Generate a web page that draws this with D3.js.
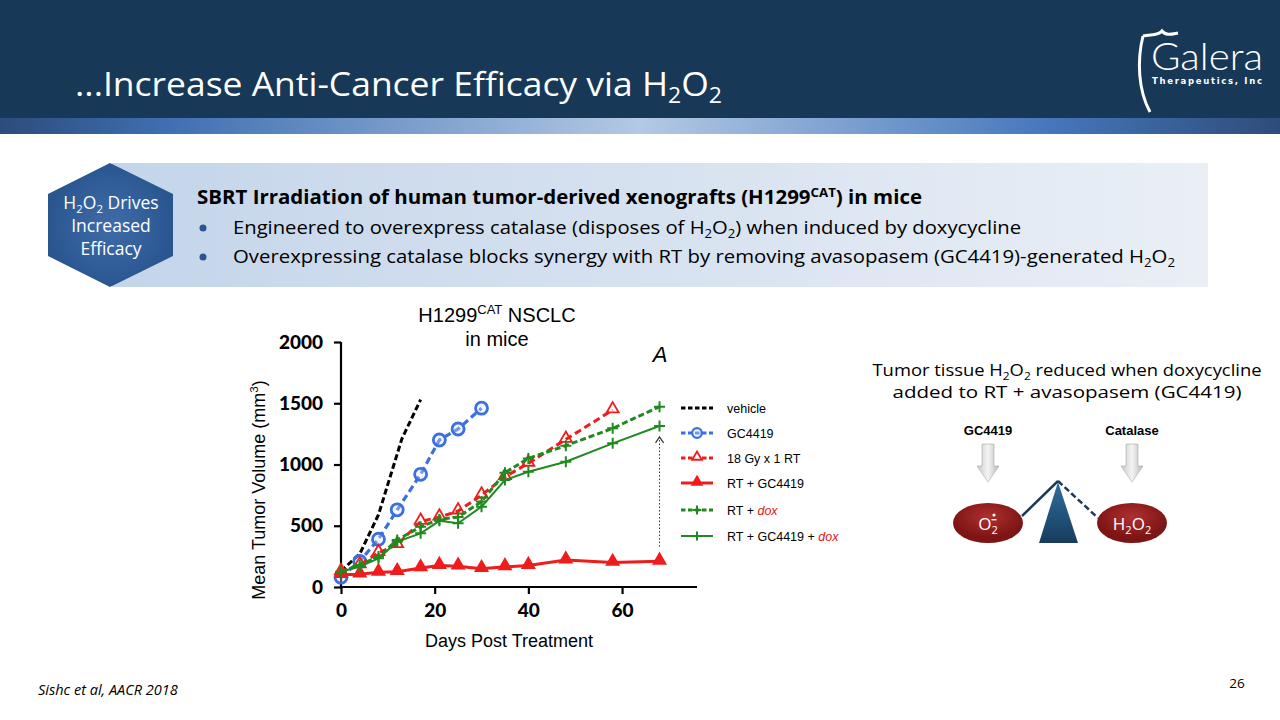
<!DOCTYPE html>
<html>
<head>
<meta charset="utf-8">
<script src="https://cdn.jsdelivr.net/npm/d3@7"></script>
<style>
  body { margin: 0; background: #fff; }
  svg { display: block; }
</style>
</head>
<body>
<svg id="slide" width="1280" height="720"></svg>
<script>
// tumour volume data (days post treatment / mm3)
var days = [0, 4, 8, 12, 17, 21, 25, 30, 35, 40, 48, 58, 68];
var vehicleDays = [0, 4, 8, 13, 17];
var vehicle = [130, 270, 590, 1210, 1530];
var gc4419 = [80, 210, 390, 630, 920, 1200, 1290, 1460];
var rtOnly = [125, 180, 280, 345, 535, 570, 620, 750, 900, 1010, 1205, 1445];
var rtGc = [100, 105, 120, 125, 155, 175, 170, 150, 165, 175, 220, 200, 210];
var rtDox = [125, 180, 248, 384, 492, 552, 571, 697, 933, 1050, 1154, 1295, 1472];
var rtGcDox = [125, 166, 234, 370, 438, 540, 520, 656, 873, 941, 1023, 1173, 1314];
var xTicks = [0, 20, 40, 60];
var yTicks = [0, 500, 1000, 1500, 2000];
var arrowSpan = [68, 330, 1225]; // day, from, to

var svg = d3.select("#slide");
var defs = svg.append("defs");

// ---------- header ----------
svg.append("rect").attr("x", 0).attr("y", 0).attr("width", 1280).attr("height", 118).attr("fill", "#173856");

var band = defs.append("linearGradient").attr("id", "band");
[[0, "#2c4c7c"], [0.13, "#3f6fb2"], [0.5, "#b3c9e4"], [0.82, "#4577bc"], [1, "#2e4c7a"]].forEach(function(s) {
  band.append("stop").attr("offset", s[0]).attr("stop-color", s[1]);
});
svg.append("rect").attr("x", 0).attr("y", 118).attr("width", 1280).attr("height", 16).attr("fill", "url(#band)");

// text with sub/superscripts: parts = [[text, "sub"|"sup"|"back"|"down", colour, style], ...]
function richText(g, x, y, parts, opts) {
  var t = g.append("text").attr("x", x).attr("y", y)
    .attr("font-family", opts.font)
    .attr("font-size", opts.size)
    .attr("font-weight", opts.weight || "normal")
    .attr("font-style", opts.style || "normal")
    .attr("fill", opts.fill || "#000")
    .attr("text-anchor", opts.anchor || "start");
  parts.forEach(function(p) {
    var s = t.append("tspan").text(p[0]);
    if (p[1] === "sub") s.attr("font-size", opts.size * 0.65).attr("dy", opts.size * 0.22);
    else if (p[1] === "sup") s.attr("font-size", opts.size * 0.65).attr("dy", -opts.size * 0.38);
    else if (p[1] === "back") s.attr("dy", -opts.size * 0.22);
    else if (p[1] === "down") s.attr("dy", opts.size * 0.38);
    if (p[2]) s.attr("fill", p[2]);
    if (p[3]) s.attr("font-style", p[3]);
  });
  if (opts.len) t.attr("textLength", opts.len).attr("lengthAdjust", "spacingAndGlyphs");
  return t;
}

var segoe = "'Open Sans', 'Noto Sans', sans-serif";
var arial = "'Liberation Sans', Arial, sans-serif";

richText(svg, 75, 96, [["...Increase Anti-Cancer Efficacy via H"], ["2", "sub"], ["O", "back"], ["2", "sub"]],
  { font: segoe, size: 33, fill: "#fff", len: 647 });

// logo
var logo = svg.append("g");
logo.append("path")
  .attr("d", "M1143,36 C1137,60 1138,90 1150,112 M1143,36 C1150,34 1158,36 1162,31 C1166,36 1172,34 1178,33")
  .attr("fill", "none").attr("stroke", "#fff").attr("stroke-width", 3);
logo.append("text").attr("x", 1151).attr("y", 70).text("Galera")
  .attr("font-family", "Lato, 'Open Sans', sans-serif").attr("font-size", 38).attr("font-weight", 300)
  .attr("fill", "#fff").attr("textLength", 112).attr("lengthAdjust", "spacingAndGlyphs");
logo.append("text").attr("x", 1152).attr("y", 84).text("Therapeutics, Inc")
  .attr("font-family", "'DejaVu Sans', sans-serif").attr("font-size", 8.5).attr("font-weight", "bold")
  .attr("fill", "#fff").attr("textLength", 110).attr("lengthAdjust", "spacing");

// ---------- key message box ----------
var boxGrad = defs.append("linearGradient").attr("id", "boxGrad");
boxGrad.append("stop").attr("offset", 0).attr("stop-color", "#c4d5ea");
boxGrad.append("stop").attr("offset", 1).attr("stop-color", "#eaeff6");
svg.append("rect").attr("x", 112).attr("y", 163).attr("width", 1096).attr("height", 124).attr("fill", "url(#boxGrad)");

var hexGrad = defs.append("radialGradient").attr("id", "hexGrad");
hexGrad.append("stop").attr("offset", 0).attr("stop-color", "#3f6ca8");
hexGrad.append("stop").attr("offset", 1).attr("stop-color", "#2a5690");
svg.append("path").attr("d", "M110,163 L173,194 L173,256 L110,287 L48,256 L48,194 Z").attr("fill", "url(#hexGrad)");
richText(svg, 111, 209, [["H"], ["2", "sub"], ["O", "back"], ["2", "sub"], [" Drives", "back"]], { font: segoe, size: 17.5, fill: "#fff", anchor: "middle" });
richText(svg, 111, 232, [["Increased"]], { font: segoe, size: 17.5, fill: "#fff", anchor: "middle" });
richText(svg, 111, 255, [["Efficacy"]], { font: segoe, size: 17.5, fill: "#fff", anchor: "middle" });

richText(svg, 197, 204, [["SBRT Irradiation of human tumor-derived xenografts (H1299"], ["CAT", "sup"], [") in mice", "down"]],
  { font: segoe, size: 19, weight: "bold", fill: "#000", len: 725 });
svg.append("circle").attr("cx", 203).attr("cy", 228).attr("r", 3.5).attr("fill", "#2c5492");
svg.append("circle").attr("cx", 203).attr("cy", 257).attr("r", 3.5).attr("fill", "#2c5492");
richText(svg, 233, 234, [["Engineered to overexpress catalase (disposes of H"], ["2", "sub"], ["O", "back"], ["2", "sub"], [") when induced by doxycycline", "back"]],
  { font: segoe, size: 19, fill: "#000", len: 788 });
richText(svg, 233, 263, [["Overexpressing catalase blocks synergy with RT by removing avasopasem (GC4419)-generated H"], ["2", "sub"], ["O", "back"], ["2", "sub"]],
  { font: segoe, size: 19, fill: "#000", len: 942 });

// ---------- chart ----------
var x = d3.scaleLinear().domain([0, 76]).range([341, 697]);
var y = d3.scaleLinear().domain([0, 2000]).range([587, 342]);
var chart = svg.append("g");

var xAxis = chart.append("g").attr("transform", "translate(0,587)")
  .call(d3.axisBottom(x).tickValues(xTicks).tickFormat(d3.format("d")).tickSize(7).tickPadding(10));
var yAxis = chart.append("g").attr("transform", "translate(341,0)")
  .call(d3.axisLeft(y).tickValues(yTicks).tickFormat(d3.format("d")).tickSize(7).tickPadding(11));
[xAxis, yAxis].forEach(function(a) {
  a.select(".domain").attr("stroke-width", 2.2);
  a.selectAll(".tick line").attr("stroke-width", 2.2);
  a.selectAll(".tick text").attr("font-family", "Lato, 'Open Sans', sans-serif").attr("font-weight", 900)
    .attr("font-size", 19).attr("fill", "#000");
});
xAxis.select(".domain").attr("d", "M" + (x(0) - 1) + ",0H697");
yAxis.select(".domain").attr("d", "M0," + y(2000) + "V" + (y(0) + 1));

chart.append("text").attr("x", 509).attr("y", 647).attr("text-anchor", "middle")
  .attr("font-family", arial).attr("font-size", 18).text("Days Post Treatment");
var yTitle = richText(chart, 0, 0, [["Mean Tumor Volume (mm"], ["3", "sup"], [")", "down"]],
  { font: arial, size: 18, anchor: "middle" });
yTitle.attr("transform", "translate(265,490) rotate(-90)");

richText(chart, 497, 322, [["H1299"], ["CAT", "sup"], [" NSCLC", "down"]], { font: arial, size: 20, anchor: "middle" });
richText(chart, 497, 346, [["in mice"]], { font: arial, size: 20, anchor: "middle" });
chart.append("text").attr("x", 660).attr("y", 362).attr("text-anchor", "middle")
  .attr("font-family", arial).attr("font-size", 22).attr("font-style", "italic").text("A");

var series = [
  { name: [["vehicle"]], d: vehicleDays, v: vehicle, color: "#000", dash: "6,3", w: 3, marker: "none" },
  { name: [["GC4419"]], d: days.slice(0, gc4419.length), v: gc4419, color: "#3c6fdf", dash: "7,4", w: 3.2, marker: "circle" },
  { name: [["18 Gy x 1 RT"]], d: days.slice(0, rtOnly.length), v: rtOnly, color: "#f01c1c", dash: "7,4", w: 3, marker: "openTri" },
  { name: [["RT + GC4419"]], d: days, v: rtGc, color: "#f01c1c", dash: null, w: 3, marker: "tri" },
  { name: [["RT + "], ["dox", null, "#e01818", "italic"]], d: days, v: rtDox, color: "#1f8a1f", dash: "6,3", w: 3, marker: "plus" },
  { name: [["RT + GC4419 + "], ["dox", null, "#e01818", "italic"]], d: days, v: rtGcDox, color: "#1f8a1f", dash: null, w: 2, marker: "plus" }
];

var line = d3.line().x(function(p) { return x(p[0]); }).y(function(p) { return y(p[1]); });

function drawMarker(g, s, cx, cy, scale) {
  scale = scale || 1;
  if (s.marker === "circle") {
    g.append("circle").attr("cx", cx).attr("cy", cy).attr("r", 6 * scale)
      .attr("fill", "#dbe5fb").attr("fill-opacity", 0.35).attr("stroke", s.color).attr("stroke-width", 2.8 * scale);
  } else if (s.marker === "tri" || s.marker === "openTri") {
    g.append("path").attr("d", d3.symbol().type(d3.symbolTriangle).size(62 * scale * scale)())
      .attr("transform", "translate(" + cx + "," + (cy - 1) + ")")
      .attr("fill", s.marker === "tri" ? s.color : "#fff").attr("stroke", s.color).attr("stroke-width", 1.8);
  } else if (s.marker === "plus") {
    var r = 5.5 * scale;
    g.append("path").attr("d", "M" + (cx - r) + "," + cy + "H" + (cx + r) + "M" + cx + "," + (cy - r) + "V" + (cy + r))
      .attr("stroke", s.color).attr("stroke-width", 2).attr("fill", "none");
  }
}

var plot = chart.append("g");
series.forEach(function(s) {
  var pts = s.d.map(function(d, i) { return [d, s.v[i]]; });
  var g = plot.append("g");
  pts.forEach(function(p) { if (s.marker === "openTri") drawMarker(g, s, x(p[0]), y(p[1])); });
  g.append("path").datum(pts).attr("d", line).attr("fill", "none")
    .attr("stroke", s.color).attr("stroke-width", s.w).attr("stroke-dasharray", s.dash);
  pts.forEach(function(p) { if (s.marker !== "openTri") drawMarker(g, s, x(p[0]), y(p[1])); });
});

// dotted arrow showing the dox effect
var ax = x(arrowSpan[0]);
chart.append("line").attr("x1", ax).attr("x2", ax).attr("y1", y(arrowSpan[1])).attr("y2", y(arrowSpan[2]))
  .attr("stroke", "#333").attr("stroke-width", 1).attr("stroke-dasharray", "1.5,2");
chart.append("path").attr("d", "M" + (ax - 4) + "," + (y(arrowSpan[2]) + 6) + "L" + ax + "," + y(arrowSpan[2]) + "L" + (ax + 4) + "," + (y(arrowSpan[2]) + 6))
  .attr("fill", "none").attr("stroke", "#333").attr("stroke-width", 1.2);

// legend
var legend = chart.append("g");
var rowY = [408, 433, 458, 483, 510, 536];
series.forEach(function(s, i) {
  var ly = rowY[i];
  legend.append("line").attr("x1", 681).attr("x2", 713).attr("y1", ly).attr("y2", ly)
    .attr("stroke", s.color).attr("stroke-width", s.w).attr("stroke-dasharray", s.dash ? "4.5,2.5" : null);
  drawMarker(legend, s, 697, ly, 0.8);
  richText(legend, 727, ly + 4.5, s.name, { font: arial, size: 12.5 });
});

// ---------- right side diagram ----------
var right = svg.append("g");
richText(right, 1067, 376, [["Tumor tissue H"], ["2", "sub"], ["O", "back"], ["2", "sub"], [" reduced when doxycycline", "back"]],
  { font: segoe, size: 16.5, anchor: "middle", len: 389 });
richText(right, 1067, 398, [["added to RT + avasopasem (GC4419)"]], { font: segoe, size: 16.5, anchor: "middle", len: 349 });

right.append("text").attr("x", 988).attr("y", 435).attr("text-anchor", "middle")
  .attr("font-family", arial).attr("font-weight", "bold").attr("font-size", 13).text("GC4419");
right.append("text").attr("x", 1132).attr("y", 435).attr("text-anchor", "middle")
  .attr("font-family", arial).attr("font-weight", "bold").attr("font-size", 13).text("Catalase");

var arrowGrad = defs.append("linearGradient").attr("id", "arrowGrad");
arrowGrad.append("stop").attr("offset", 0).attr("stop-color", "#c9c9c9");
arrowGrad.append("stop").attr("offset", 0.5).attr("stop-color", "#f4f4f4");
arrowGrad.append("stop").attr("offset", 1).attr("stop-color", "#b8b8b8");
[988, 1132].forEach(function(cx) {
  right.append("path")
    .attr("d", "M" + (cx - 6) + ",444 H" + (cx + 6) + " V466 H" + (cx + 11) + " L" + cx + ",482 L" + (cx - 11) + ",466 H" + (cx - 6) + " Z")
    .attr("fill", "url(#arrowGrad)").attr("stroke", "#aaa").attr("stroke-width", 0.6);
});

var triGrad = defs.append("linearGradient").attr("id", "triGrad").attr("x1", 0).attr("x2", 0).attr("y1", 0).attr("y2", 1);
triGrad.append("stop").attr("offset", 0).attr("stop-color", "#2f6f9c");
triGrad.append("stop").attr("offset", 1).attr("stop-color", "#173c5e");
right.append("path").attr("d", "M1058,482 L1078,543 L1039,543 Z").attr("fill", "url(#triGrad)");
right.append("line").attr("x1", 1058).attr("y1", 481).attr("x2", 1022).attr("y2", 516)
  .attr("stroke", "#1b3a57").attr("stroke-width", 2.5);
right.append("line").attr("x1", 1058).attr("y1", 481).attr("x2", 1098).attr("y2", 518)
  .attr("stroke", "#1b3a57").attr("stroke-width", 2.5).attr("stroke-dasharray", "6,3");

var ellGrad = defs.append("radialGradient").attr("id", "ellGrad").attr("cy", "35%");
ellGrad.append("stop").attr("offset", 0).attr("stop-color", "#b03030");
ellGrad.append("stop").attr("offset", 1).attr("stop-color", "#7e1515");
[988, 1132].forEach(function(cx) {
  right.append("ellipse").attr("cx", cx).attr("cy", 523).attr("rx", 35).attr("ry", 20).attr("fill", "url(#ellGrad)");
});
richText(right, 988, 530, [["O"], ["2", "sub"]], { font: segoe, size: 17, fill: "#fff", anchor: "middle" });
right.append("circle").attr("cx", 994).attr("cy", 515).attr("r", 1.6).attr("fill", "#fff");
right.append("rect").attr("x", 991.5).attr("y", 519).attr("width", 5).attr("height", 1.4).attr("fill", "#fff");
richText(right, 1132, 530, [["H"], ["2", "sub"], ["O", "back"], ["2", "sub"]], { font: segoe, size: 17, fill: "#fff", anchor: "middle" });

// ---------- footer ----------
svg.append("text").attr("x", 38).attr("y", 695).attr("font-family", segoe).attr("font-style", "italic")
  .attr("font-size", 14.5).text("Sishc et al, AACR 2018");
svg.append("text").attr("x", 1237).attr("y", 688).attr("text-anchor", "middle").attr("font-family", segoe)
  .attr("font-size", 13.5).text("26");
</script>
</body>
</html>
